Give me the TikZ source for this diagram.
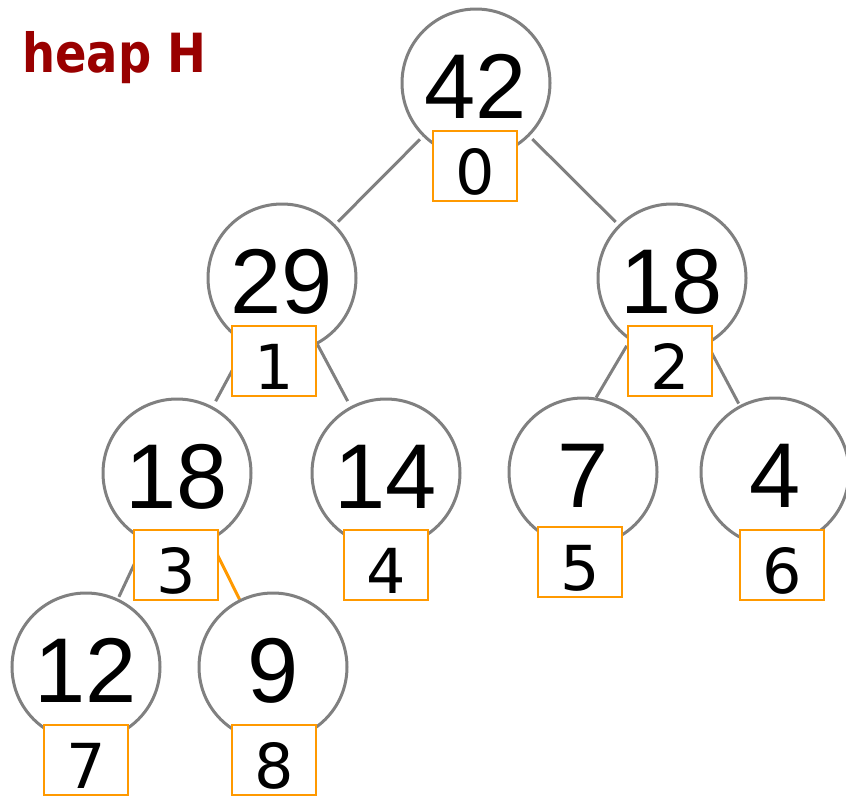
\documentclass[tikz,border=0pt]{standalone}
\usepackage{fontspec}
\setmainfont{Liberation Sans}
\newfontfamily\keyfont{DejaVu Sans}
\newfontfamily\titlefont[FakeStretch=0.86]{DejaVu Sans Bold}
\usetikzlibrary{backgrounds}
\definecolor{heapred}{HTML}{990000}
\definecolor{boxorange}{HTML}{FF9900}
\definecolor{linegray}{HTML}{808080}

\begin{document}
\begin{tikzpicture}[x=0.5pt,y=-0.5pt,
  elem/.style={circle,draw=linegray,line width=1.5pt,fill=white,
    minimum size=74pt,inner sep=0pt,
    font=\fontsize{46}{46}\selectfont,text height=35pt,text depth=0pt},
  idx/.style={rectangle,draw=boxorange,line width=1.2pt,fill=white,
    minimum width=42pt,minimum height=35pt,inner sep=0pt,
    font=\keyfont\fontsize{31}{31}\selectfont,text height=28.6pt,text depth=0pt},
  link/.style={draw=linegray,line width=1.5pt}]

\useasboundingbox (0,0) rectangle (846,798);
\clip (0,0) rectangle (846,798);

% Title in the top left corner.
\node[heapred,inner sep=0pt,anchor=base west,font=\titlefont\fontsize{27}{27}\selectfont]
  (title) at (22,72) {heap H};

% Heap elements, one row per level of the tree.
\node[elem] (v0) at (476,83) {42};
\node[elem] (v1) at (282,278) {29};
\node[elem] (v2) at (672,278) {18};
\node[elem] (v3) at (177,473) {18};
\node[elem] (v4) at (386,473) {14};
\node[elem] (v5) at (583,472) {7};
\node[elem] (v6) at (775,472) {4};
\node[elem] (v7) at (86,667) {12};
\node[elem] (v8) at (273,667) {9};

% Array positions, in small boxes hanging below each element.
\node[idx] (k0) at (475,166) {0};
\node[idx] (k1) at (274,361) {1};
\node[idx] (k2) at (670,361) {2};
\node[idx] (k3) at (176,565) {3};
\node[idx] (k4) at (386,565) {4};
\node[idx] (k5) at (580,562) {5};
\node[idx] (k6) at (782,565) {6};
\node[idx] (k7) at (86,760) {7};
\node[idx] (k8) at (274,760) {8};

% Tree edges, kept behind the circles and the boxes.
\begin{pgfonlayer}{background}
\draw[link,shorten <=2pt,shorten >=2pt] (v0) -- (v1);
\draw[link,shorten <=2pt,shorten >=2pt] (v0) -- (v2);
\draw[link,shorten >=3pt] (v1) -- (v3);
\draw[link,shorten >=3pt] (v1) -- (v4);
\draw[link,shorten <=3pt] (v2.236) -- (v5.80);
\draw[link,shorten >=1pt] (v2) -- (v6);
\draw[link,shorten >=1pt] (v3) -- (v7);

% The last edge is the one that is marked.
\draw[link,draw=boxorange] (v3) -- (v8);
\end{pgfonlayer}

\end{tikzpicture}
\end{document}
